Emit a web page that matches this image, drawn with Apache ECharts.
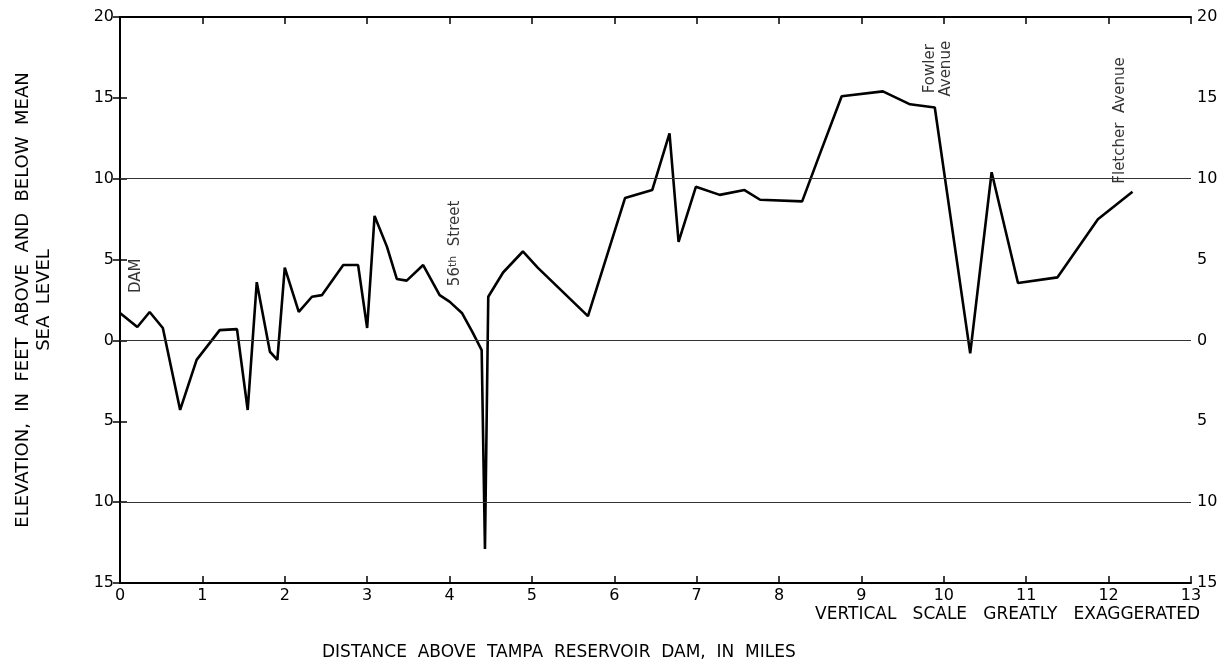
<!DOCTYPE html>
<html lang="en">
<head>
	<meta charset="utf-8" />
	<title>Tampa Reservoir profile</title>
	<style>
		html, body { margin: 0; padding: 0; background: #fff; }
		#chart { width: 1230px; height: 669px; }
	</style>
</head>
<body>
	<div id="chart"></div>
	<script src="https://cdn.jsdelivr.net/npm/echarts@6/dist/echarts.min.js"></script>
	<script>
		// distance above dam (miles) and elevation (feet, +/- mean sea level)
		var miles = [0, 0.21, 0.36, 0.52, 0.73, 0.93, 1.21, 1.42, 1.55, 1.66, 1.82, 1.91, 2.0, 2.17,
			2.33, 2.45, 2.71, 2.89, 3.0, 3.09, 3.24, 3.36, 3.48, 3.68, 3.88, 4.0, 4.15, 4.28, 4.39,
			4.43, 4.47, 4.65, 4.89, 5.07, 5.68, 6.13, 6.46, 6.67, 6.78, 6.99, 7.28, 7.58, 7.77, 8.28,
			8.5, 8.76, 9.26, 9.59, 9.89, 10.32, 10.58, 10.9, 11.38, 11.87, 12.29];
		var elevation = [1.7, 0.83, 1.76, 0.77, -4.3, -1.2, 0.64, 0.7, -4.3, 3.6, -0.7, -1.2, 4.5, 1.76,
			2.7, 2.8, 4.66, 4.66, 0.77, 7.7, 5.8, 3.8, 3.7, 4.66, 2.8, 2.4, 1.7, 0.5, -0.6,
			-12.9, 2.7, 4.2, 5.5, 4.5, 1.5, 8.8, 9.3, 12.8, 6.1, 9.5, 9.0, 9.3, 8.7, 8.6,
			11.6, 15.1, 15.4, 14.6, 14.4, -0.8, 10.4, 3.55, 3.9, 7.5, 9.2];

		var refLines = [0, 10, -10];

		var noteText = ['DAM', '56{sup|th}  Street', 'Fowler\nAvenue', 'Fletcher  Avenue'];
		var noteMiles = [0.19, 4.07, 9.93, 12.14];
		var noteFeet = [4.0, 6.0, 16.8, 13.6];

		var font = '"DejaVu Sans", sans-serif';

		var line = [];
		for (var i = 0; i < miles.length; i++) line.push([miles[i], elevation[i]]);
		var notes = [];
		for (var j = 0; j < noteText.length; j++) notes.push({ name: noteText[j], value: [noteMiles[j], noteFeet[j]] });

		function absLabel(v) { return String(Math.abs(v)); }

		var yBase = {
			type: 'value', min: -15, max: 20, interval: 5,
			axisLine: { show: true, lineStyle: { color: '#000', width: 2 } },
			axisTick: { show: true, inside: true, length: 7, lineStyle: { color: '#000', width: 1.5 } },
			splitLine: { show: false },
			axisLabel: { formatter: absLabel, color: '#000', fontFamily: font, fontSize: 16, margin: 6 }
		};
		var xBase = {
			type: 'value', min: 0, max: 13, interval: 1,
			axisLine: { show: true, onZero: false, lineStyle: { color: '#000', width: 2 } },
			axisTick: { show: true, inside: true, length: 7, lineStyle: { color: '#000', width: 1.5 } },
			splitLine: { show: false }
		};

		var chart = echarts.init(document.getElementById('chart'));
		chart.setOption({
			animation: false,
			backgroundColor: '#fff',
			grid: { left: 120, right: 39, top: 17, bottom: 86, outerBoundsMode: 'none', containLabel: false },
			xAxis: [
				Object.assign({}, xBase, {
					position: 'bottom',
					axisLabel: { color: '#000', fontFamily: font, fontSize: 16, margin: 5 }
				}),
				Object.assign({}, xBase, { position: 'top', axisLabel: { show: false } })
			],
			yAxis: [
				Object.assign({}, yBase, {
					position: 'left',
					name: 'ELEVATION,  IN  FEET  ABOVE  AND  BELOW  MEAN\nSEA  LEVEL',
					nameLocation: 'middle', nameGap: 65, nameRotate: 90,
					nameTextStyle: { color: '#000', fontFamily: font, fontSize: 18, lineHeight: 21 }
				}),
				Object.assign({}, yBase, { position: 'right' })
			],
			graphic: [{
				type: 'text', right: 30, top: 606,
				style: { text: 'VERTICAL   SCALE   GREATLY   EXAGGERATED', fill: '#000', font: '17px ' + font }
			}, {
				type: 'text', left: 322, top: 644,
				style: { text: 'DISTANCE  ABOVE  TAMPA  RESERVOIR  DAM,  IN  MILES', fill: '#000', font: '17px ' + font }
			}],
			series: [{
				type: 'line',
				data: line,
				symbol: 'none',
				lineStyle: { color: '#000', width: 2.6 },
				markLine: {
					silent: true, symbol: 'none', label: { show: false },
					lineStyle: { color: '#333', width: 1.2, type: 'solid' },
					data: refLines.map(function (v) { return { yAxis: v }; })
				}
			}, {
				type: 'scatter',
				data: notes,
				symbolSize: 0,
				label: {
					show: true, position: 'inside', rotate: 90,
					formatter: function (p) { return p.name; },
					color: '#000', fontFamily: font, fontSize: 15, lineHeight: 16,
					rich: { sup: { fontSize: 11, verticalAlign: 'top', color: '#000', fontFamily: font } }
				}
			}]
		});
	</script>
</body>
</html>
